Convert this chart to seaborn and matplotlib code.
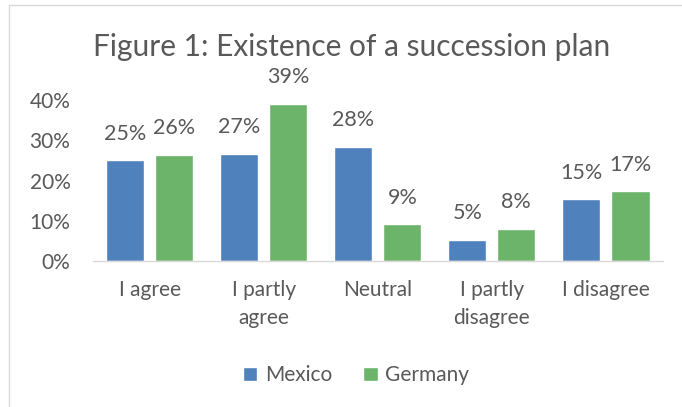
import pandas as pd
import seaborn as sns
import matplotlib.pyplot as plt
from matplotlib.lines import Line2D

categories = ["I agree", "I partly\nagree", "Neutral", "I partly\ndisagree", "I disagree"]
mexico = [0.250, 0.266, 0.284, 0.052, 0.153]
germany = [0.264, 0.390, 0.091, 0.080, 0.173]
countries = ["Mexico", "Germany"]
colors = ["#4F81BD", "#6DB46B"]
yticks = [0, 0.1, 0.2, 0.3, 0.4]
title = "Figure 1: Existence of a succession plan"

df = pd.DataFrame({
    "category": categories * 2,
    "country": ["Mexico"] * len(categories) + ["Germany"] * len(categories),
    "value": mexico + germany,
})

sns.set_style("white")
plt.rcParams["font.family"] = ["Lato", "DejaVu Sans"]
txt = "#595959"

fig = plt.figure(figsize=(6.82, 4.07), dpi=100)
ax = fig.add_axes([0.136, 0.359, 0.836, 0.395])

sns.barplot(data=df, x="category", y="value", hue="country", order=categories,
            hue_order=countries, palette=colors, width=0.86, gap=0.22,
            saturation=1, ax=ax, legend=True)

for cont in ax.containers:
    ax.bar_label(cont, labels=[f"{v*100:.0f}%" for v in cont.datavalues],
                 padding=12, fontsize=15.5, color=txt)

ax.set_ylim(0, 0.4)
ax.set_xlim(-0.5, len(categories) - 0.5)
ax.set_yticks(yticks)
ax.set_yticklabels([f"{t*100:.0f}%" for t in yticks])
ax.tick_params(axis="y", labelsize=15, labelcolor=txt, length=0, pad=16)
ax.tick_params(axis="x", labelsize=15, labelcolor=txt, length=0, pad=14)
for lab in ax.get_xticklabels():
    lab.set_linespacing(1.45)
ax.set_xlabel("")
ax.set_ylabel("")
for s in ["top", "right", "left"]:
    ax.spines[s].set_visible(False)
ax.spines["bottom"].set_color("#D9D9D9")
ax.spines["bottom"].set_linewidth(1)

leg = ax.legend(loc="center", bbox_to_anchor=(0.522, 0.078), bbox_transform=fig.transFigure,
                ncol=2, frameon=False, fontsize=15, handlelength=0.7, handleheight=0.7,
                handletextpad=0.35, columnspacing=1.5, labelcolor=txt)

fig.text(0.515, 0.885, title, ha="center", va="center", fontsize=21.5, color=txt)

# light frame lines at the top and left of the cropped chart
fig.add_artist(Line2D([0.013, 1.0], [0.988, 0.988], transform=fig.transFigure,
                      color="#D9D9D9", lw=1))
fig.add_artist(Line2D([0.013, 0.013], [0.0, 0.988], transform=fig.transFigure,
                      color="#D9D9D9", lw=1))

fig.savefig("out.png", dpi=100)
